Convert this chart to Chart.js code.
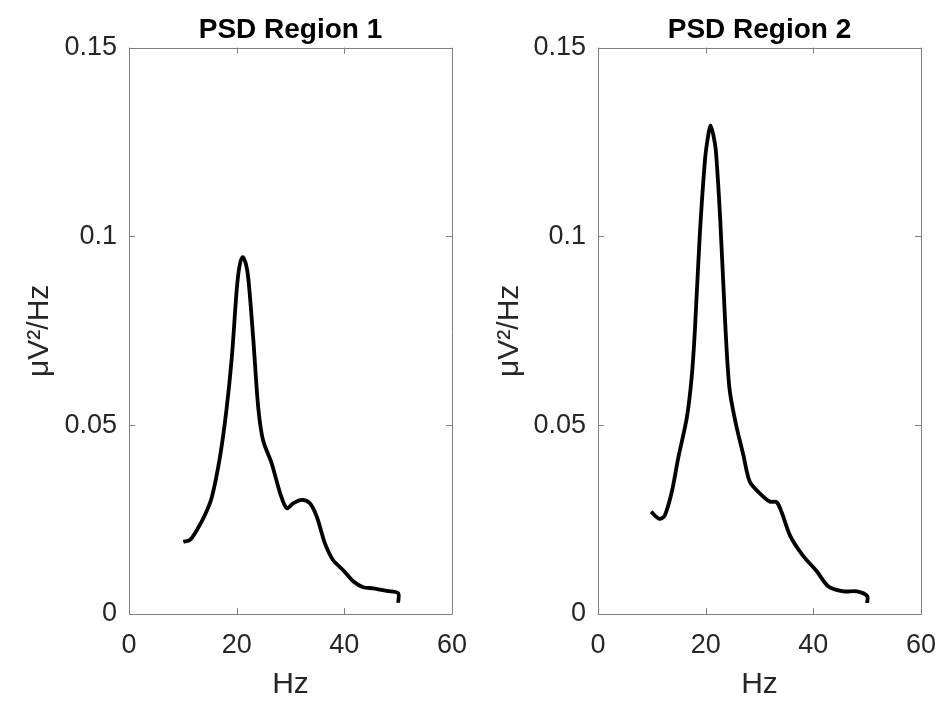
<!DOCTYPE html>
<html>
<head>
<meta charset="utf-8">
<script src="https://cdn.jsdelivr.net/npm/chart.js@4"></script>
<style>
  html, body { margin: 0; padding: 0; background: #fff; }
  .wrap { position: relative; width: 940px; height: 701px; }
  .wrap canvas { position: absolute; top: 0; }
</style>
</head>
<body>
<div class="wrap">
  <canvas id="psd-1" width="470" height="701" style="left:0"></canvas>
  <canvas id="psd-2" width="470" height="701" style="left:470px"></canvas>
</div>
<script>
const xTicks = [0, 20, 40, 60];
const yTicks = [0, 0.05, 0.1, 0.15];

const region1Hz = [10.1, 11.3, 12.6, 14.1, 15.4, 16.9, 18.1, 19.1, 20.0, 20.5, 21.1, 21.7, 22.2, 23.1, 24.0, 24.9, 26.5, 28.1, 29.3, 30.5, 32.1, 33.6, 34.9, 36.4, 37.9, 39.8, 41.7, 43.5, 45.4, 47.9, 50.0, 50.0];
const region1Psd = [0.0191, 0.0196, 0.0222, 0.0262, 0.031, 0.0416, 0.054, 0.068, 0.0857, 0.0919, 0.0945, 0.0928, 0.0884, 0.0725, 0.0548, 0.046, 0.0399, 0.0319, 0.028, 0.0293, 0.0302, 0.0293, 0.0257, 0.0187, 0.0143, 0.0116, 0.0086, 0.0071, 0.0068, 0.0061, 0.0055, 0.003];

const region2Hz = [9.85, 11.4, 12.4, 13.7, 14.9, 16.5, 17.4, 18.0, 18.9, 19.9, 20.5, 20.9, 21.4, 21.9, 22.7, 23.6, 24.4, 25.5, 27.0, 28.2, 30.1, 31.9, 33.2, 34.1, 35.7, 38.1, 40.6, 42.8, 45.6, 48.1, 50.0, 50.0];
const region2Psd = [0.0271, 0.0252, 0.0261, 0.0323, 0.0413, 0.052, 0.0627, 0.0752, 0.1002, 0.1207, 0.127, 0.1294, 0.127, 0.1225, 0.1046, 0.0779, 0.060, 0.0511, 0.0421, 0.035, 0.0319, 0.0298, 0.0296, 0.027, 0.0207, 0.0154, 0.0114, 0.0073, 0.006, 0.006, 0.0048, 0.0029];

const FONT = "'Liberation Sans', Arial, Helvetica, sans-serif";
const TEXT = '#262626';
const AXIS = '#808080';

// matlab style box with inward ticks on all four sides
const boxPlugin = {
    id: 'matlabBox',
    afterDatasetsDraw(chart) {
        const { ctx, chartArea: a, scales } = chart;
        const len = 6;
        ctx.save();
        ctx.strokeStyle = AXIS;
        ctx.lineWidth = 1;
        ctx.beginPath();
        ctx.rect(Math.round(a.left) + 0.5, Math.round(a.top) + 0.5, Math.round(a.right - a.left), Math.round(a.bottom - a.top));
        scales.x.ticks.forEach((t) => {
            const px = Math.round(scales.x.getPixelForValue(t.value)) + 0.5;
            ctx.moveTo(px, a.bottom); ctx.lineTo(px, a.bottom - len);
            ctx.moveTo(px, a.top); ctx.lineTo(px, a.top + len);
        });
        scales.y.ticks.forEach((t) => {
            const py = Math.round(scales.y.getPixelForValue(t.value)) + 0.5;
            ctx.moveTo(a.left, py); ctx.lineTo(a.left + len, py);
            ctx.moveTo(a.right, py); ctx.lineTo(a.right - len, py);
        });
        ctx.stroke();
        ctx.restore();
    }
};

function makePsdChart(canvasId, title, hz, psd, yWidth, rightPad) {
    const points = hz.map((x, i) => ({ x, y: psd[i] }));
    return new Chart(document.getElementById(canvasId), {
        type: 'line',
        data: {
            datasets: [{
                data: points,
                borderColor: '#000',
                borderWidth: 3.8,
                pointRadius: 0,
                tension: 0.3,
                fill: false
            }]
        },
        options: {
            responsive: false,
            animation: false,
            layout: { padding: { left: 0, right: rightPad, top: 0, bottom: 0 } },
            plugins: {
                legend: { display: false },
                tooltip: { enabled: false },
                title: {
                    display: true,
                    text: title,
                    fullSize: false,
                    color: '#000',
                    font: { family: FONT, size: 28, weight: 'bold', lineHeight: 1.2 },
                    padding: { top: 13, bottom: 1 }
                }
            },
            scales: {
                x: {
                    type: 'linear',
                    min: 0,
                    max: 60,
                    afterBuildTicks: (s) => { s.ticks = xTicks.map((v) => ({ value: v })); },
                    afterFit: (s) => { s.height = 87; s.paddingLeft = 0; s.paddingRight = 0; },
                    grid: { display: false, drawTicks: false },
                    border: { display: false },
                    ticks: { color: TEXT, padding: 15, maxRotation: 0, font: { family: FONT, size: 27 } },
                    title: {
                        display: true,
                        text: 'Hz',
                        color: TEXT,
                        font: { family: FONT, size: 30, lineHeight: 1.2 },
                        padding: { top: 0, bottom: -2 }
                    }
                },
                y: {
                    type: 'linear',
                    min: 0,
                    max: 0.15,
                    afterBuildTicks: (s) => { s.ticks = yTicks.map((v) => ({ value: v })); },
                    afterFit: (s) => { s.width = yWidth; s.paddingTop = 0; s.paddingBottom = 0; },
                    grid: { display: false, drawTicks: false },
                    border: { display: false },
                    ticks: {
                        color: TEXT,
                        padding: 12,
                        font: { family: FONT, size: 27 },
                        callback: (value) => String(Number(value.toFixed(4)))
                    },
                    title: {
                        display: true,
                        text: 'μV²/Hz',
                        color: TEXT,
                        font: { family: FONT, size: 30, lineHeight: 1.2 },
                        padding: { top: 22, bottom: 0 }
                    }
                }
            }
        },
        plugins: [boxPlugin]
    });
}

makePsdChart('psd-1', 'PSD Region 1', region1Hz, region1Psd, 129, 18);
makePsdChart('psd-2', 'PSD Region 2', region2Hz, region2Psd, 128, 19);
</script>
</body>
</html>
